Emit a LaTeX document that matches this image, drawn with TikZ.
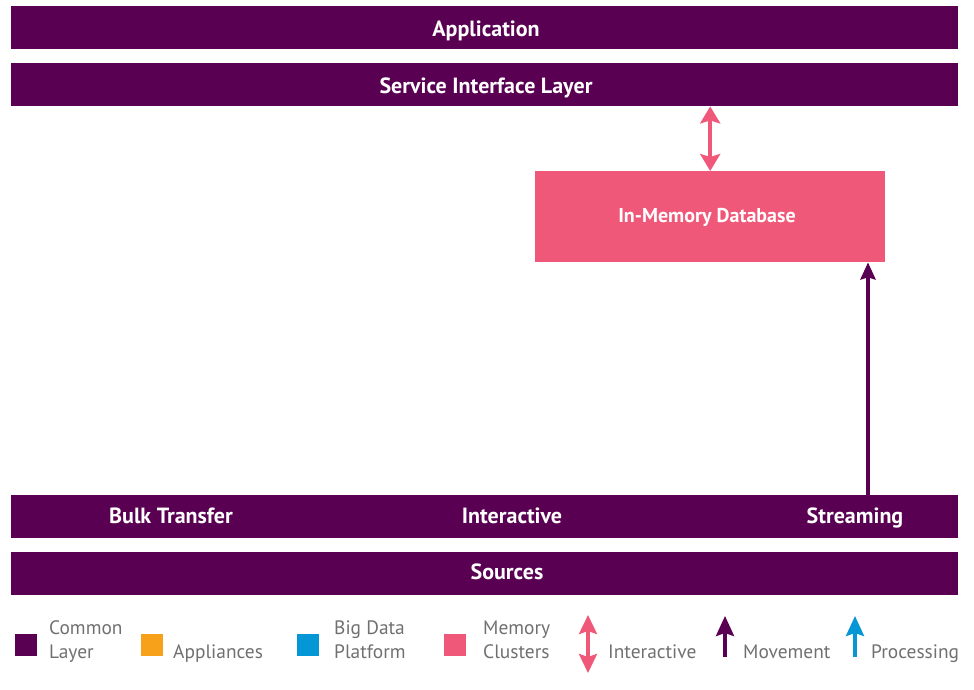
\documentclass[tikz,border=0pt]{standalone}
\usepackage{fontspec}
\setmainfont{PT Sans}
\usetikzlibrary{arrows.meta}
\definecolor{cpurple}{HTML}{5A0052}
\definecolor{cpink}{HTML}{F05879}
\definecolor{corange}{HTML}{F7A11A}
\definecolor{cblue}{HTML}{0596D5}
\definecolor{cgray}{HTML}{707070}
\tikzset{
  bar/.style={fill=cpurple, draw=none, minimum width=947pt, minimum height=43pt, inner sep=0pt, anchor=north west},
  bartext/.style={text=white, font=\bfseries\fontsize{22}{26}\selectfont, inner sep=0pt, anchor=base},
  dbbox/.style={fill=cpink, draw=none, minimum width=350pt, minimum height=91pt, inner sep=0pt, anchor=north west},
  dbtext/.style={text=white, font=\bfseries\fontsize{20}{22}\selectfont, inner sep=0pt, anchor=base},
  legsq/.style={fill=#1, draw=none, minimum size=22pt, inner sep=0pt, anchor=north west},
  legtext/.style={text=cgray, font=\fontsize{19.4}{24}\selectfont, inner sep=0pt, anchor=base west, align=left},
  interarrow/.style={draw=cpink, line width=3.5pt, {Stealth[width=20pt,length=17pt,inset=3pt]}-{Stealth[width=20pt,length=17pt,inset=3pt]}},
  movearrow/.style={draw=cpurple, line width=4pt, -{Stealth[width=15pt,length=17pt,inset=2pt]}},
  leginter/.style={draw=cpink, line width=3.5pt, {Stealth[width=18pt,length=19pt,inset=3pt]}-{Stealth[width=18pt,length=19pt,inset=3pt]}},
  legmove/.style={draw=#1, line width=3.5pt, -{Stealth[width=18pt,length=20pt,inset=3pt]}},
}
\begin{document}
\begin{tikzpicture}[x=1pt,y=-1pt]
\useasboundingbox (0,0) rectangle (974,689);
% bars
\node[bar] (app) at (11,6) {};
\node[bartext] (apptext) at (486,36) {Application};
\node[bar] (sil) at (11,63) {};
\node[bartext] (siltext) at (486,93) {Service Interface Layer};
\node[dbbox] (imdb) at (535,171) {};
\node[dbtext] (imdbtext) at (707,222) {In-Memory Database};
\node[bar] (bulk) at (11,495) {};
\node[bartext] (bulktext) at (171,523) {Bulk Transfer};
\node[bartext] (intertext) at (512,523) {Interactive};
\node[bartext] (streamtext) at (855,523) {Streaming};
\node[bar] (src) at (11,552) {};
\node[bartext] (srctext) at (507,579) {Sources};
% connectors
\draw[interarrow] (imdb.north) -- (imdb.north |- sil.south);
\coordinate (streamx) at (868,0);
\draw[movearrow] (bulk.north -| streamx) -- (imdb.south -| streamx);
% legend
\node[legsq=cpurple] (sq1) at (15,634) {};
\node[legtext] (l1) at (49,658) {Common\\Layer};
\node[legsq=corange] (sq2) at (141,634) {};
\node[legtext] (l2) at (173,658) {Appliances};
\node[legsq=cblue] (sq3) at (297,634) {};
\node[legtext] (l3) at (334,658) {Big Data\\Platform};
\node[legsq=cpink] (sq4) at (444,634) {};
\node[legtext] (l4) at (483,658) {Memory\\Clusters};
\coordinate (ia1) at (588,615);
\coordinate (ia2) at (588,673);
\draw[leginter] (ia1) -- (ia2);
\node[legtext] (l5) at (608,658) {Interactive};
\coordinate (ma1) at (725,657);
\coordinate (ma2) at (725,616);
\draw[legmove=cpurple] (ma1) -- (ma2);
\node[legtext] (l6) at (743,658) {Movement};
\coordinate (pa1) at (855,657);
\coordinate (pa2) at (855,616);
\draw[legmove=cblue] (pa1) -- (pa2);
\node[legtext] (l7) at (871,658) {Processing};
\end{tikzpicture}
\end{document}
